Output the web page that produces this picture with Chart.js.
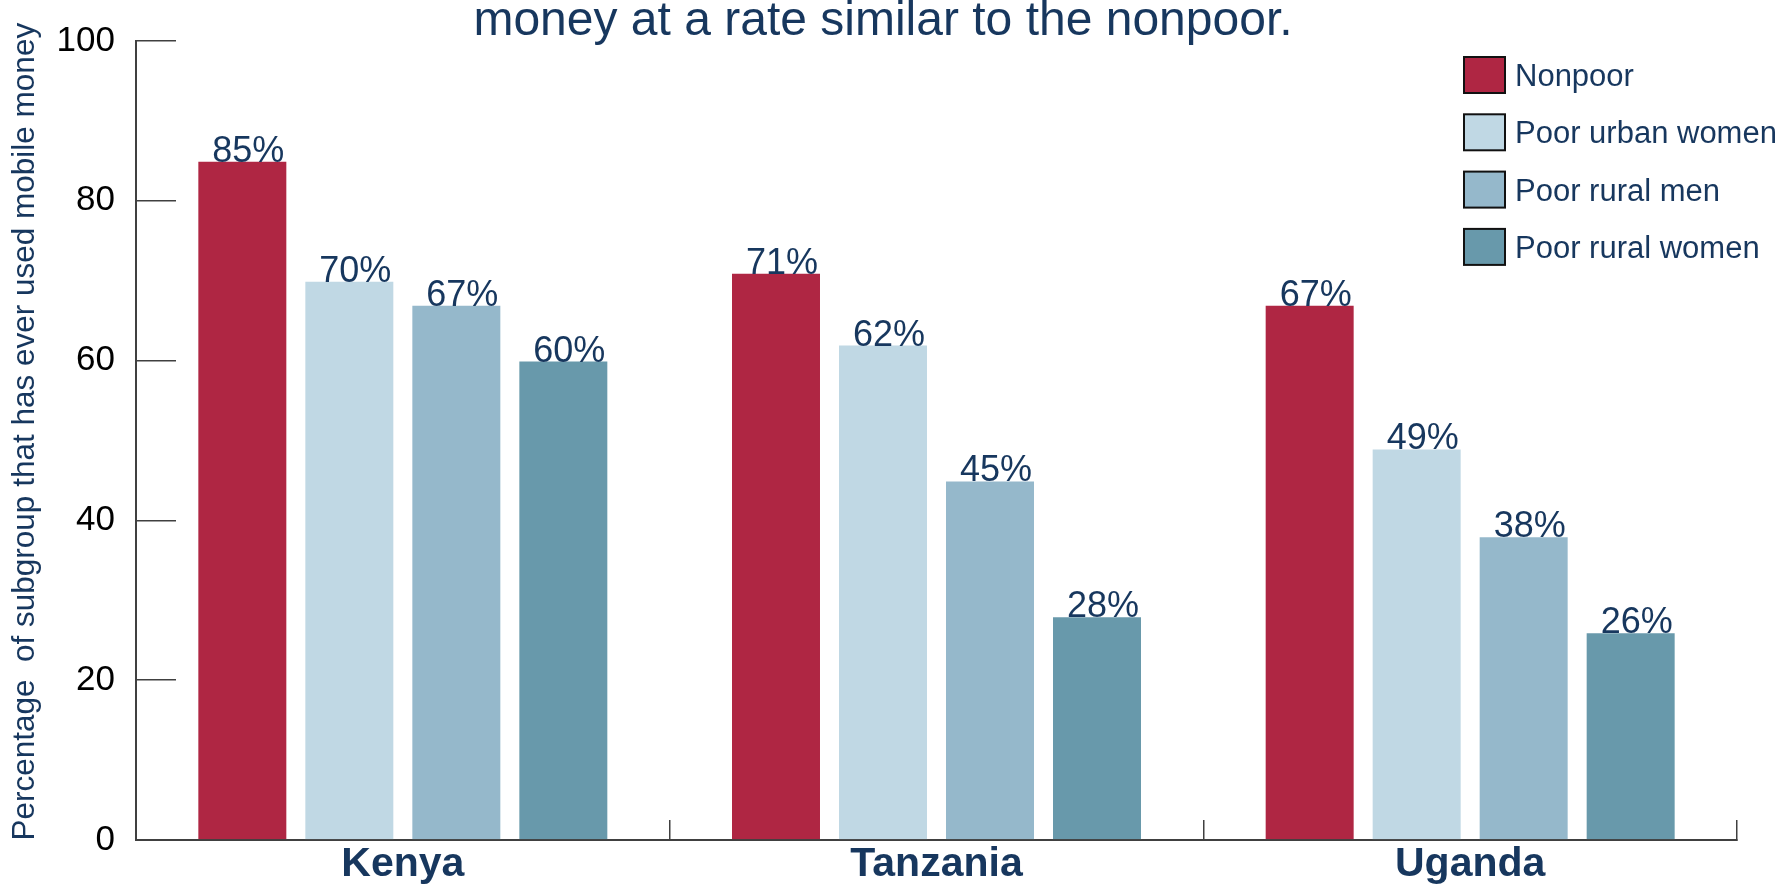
<!DOCTYPE html>
<html>
<head>
<meta charset="utf-8">
<script src="https://cdn.jsdelivr.net/npm/chart.js@4"></script>
<style>
  html, body { margin: 0; padding: 0; background: #fff; }
  #wrap { width: 1787px; height: 891px; }
</style>
</head>
<body>
<div id="wrap"><canvas id="chart" width="1787" height="891"></canvas></div>
<script>
// data
const countries = ['Kenya', 'Tanzania', 'Uganda'];
const groups = ['Nonpoor', 'Poor urban women', 'Poor rural men', 'Poor rural women'];
const nonpoor = [85, 71, 67];
const poorUrbanWomen = [70, 62, 49];
const poorRuralMen = [67, 45, 38];
const poorRuralWomen = [60, 28, 26];
const yTicks = [0, 20, 40, 60, 80, 100];

const colors = ['#AF2643', '#C0D8E4', '#95B8CB', '#6899AB'];
const navy = '#17375E';
const FONT = "'Liberation Sans', Arial, sans-serif";

// value labels sitting on top of each bar
const valueLabels = {
  id: 'valueLabels',
  afterDatasetsDraw(chart) {
    const ctx = chart.ctx;
    ctx.save();
    ctx.font = '36px ' + FONT;
    ctx.fillStyle = navy;
    ctx.textAlign = 'center';
    ctx.textBaseline = 'alphabetic';
    chart.data.datasets.forEach((ds, i) => {
      chart.getDatasetMeta(i).data.forEach((bar, j) => {
        ctx.fillText(ds.data[j] + '%', bar.x + 6, bar.y + 1);
      });
    });
    ctx.restore();
  }
};

// legend boxes in the top right corner
const boxLegend = {
  id: 'boxLegend',
  afterDraw(chart) {
    const ctx = chart.ctx;
    ctx.save();
    ctx.font = '31px ' + FONT;
    ctx.textAlign = 'left';
    ctx.textBaseline = 'alphabetic';
    chart.data.datasets.forEach((ds, i) => {
      const top = 57 + i * 57.3;
      ctx.fillStyle = ds.backgroundColor;
      ctx.fillRect(1464, top, 41, 36);
      ctx.lineWidth = 2;
      ctx.strokeStyle = '#111';
      ctx.strokeRect(1464, top, 41, 36);
      ctx.fillStyle = navy;
      ctx.fillText(ds.label, 1515, top + 18 + 11);
    });
    ctx.restore();
  }
};

const seriesValues = [nonpoor, poorUrbanWomen, poorRuralMen, poorRuralWomen];

new Chart(document.getElementById('chart'), {
  type: 'bar',
  data: {
    labels: countries,
    datasets: groups.map((g, i) => ({
      label: g,
      data: seriesValues[i],
      backgroundColor: colors[i],
      borderColor: 'rgba(255,255,255,0.35)',
      borderWidth: 1,
      categoryPercentage: 0.802,
      barPercentage: 0.841
    }))
  },
  options: {
    responsive: false,
    animation: false,
    // small right padding centres the title; the x axis asks for the rest
    layout: { padding: { top: 0, right: 21, bottom: 0, left: 0 } },
    plugins: {
      legend: { display: false },
      tooltip: { enabled: false },
      title: {
        display: true,
        text: 'money at a rate similar to the nonpoor.',
        color: navy,
        font: { family: FONT, size: 48, weight: 'normal', lineHeight: 0.77 },
        padding: { top: 3, bottom: 1 }
      }
    },
    scales: {
      x: {
        grid: {
          display: true,
          drawOnChartArea: false,
          drawTicks: true,
          tickLength: -20,
          color: '#404040',
          lineWidth: 1.5
        },
        border: { display: true, color: '#404040', width: 2 },
        ticks: {
          color: navy,
          padding: 20,
          font: { family: FONT, size: 41, weight: 'bold' }
        },
        afterFit(scale) {
          scale.height = 51;
          scale.paddingLeft = 0;
          scale.paddingRight = 50;
        }
      },
      y: {
        min: 0,
        max: 100,
        afterBuildTicks(scale) { scale.ticks = yTicks.map(v => ({ value: v })); },
        grid: {
          display: true,
          drawOnChartArea: false,
          drawTicks: true,
          tickLength: -40,
          color: '#404040',
          lineWidth: 1.5
        },
        border: { display: true, color: '#404040', width: 2 },
        ticks: {
          color: '#000',
          padding: 61,
          font: { family: FONT, size: 35 }
        },
        title: {
          display: true,
          text: '  Percentage  of subgroup that has ever used mobile money',
          color: navy,
          font: { family: FONT, size: 31.5 },
          padding: { top: 6, bottom: 0 }
        },
        afterFit(scale) {
          scale.width = 136;
          // labels hang past the plot edges; keep the plot area where it is
          scale.paddingTop = 0;
          scale.paddingBottom = 0;
        }
      }
    }
  },
  plugins: [valueLabels, boxLegend]
});
</script>
</body>
</html>
